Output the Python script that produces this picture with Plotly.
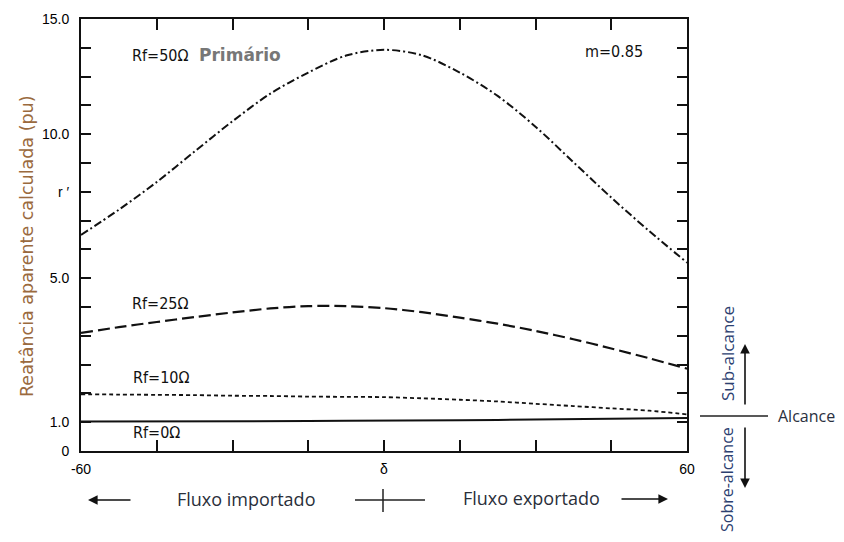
import plotly.graph_objects as go

# ---- data (x: load angle delta in degrees; y: position on the chart's vertical scale) ----
delta = [-60, -52.5, -45, -37.5, -30, -22.5, -15, -7.5, 0, 7.5, 15, 22.5, 30, 37.5, 45, 52.5, 60]
rf50 = [7.50, 8.38, 9.34, 10.40, 11.45, 12.41, 13.14, 13.73, 13.93, 13.74, 13.14, 12.33, 11.26, 10.03, 8.80, 7.64, 6.54]
rf25 = [4.10, 4.30, 4.48, 4.65, 4.81, 4.95, 5.03, 5.03, 4.96, 4.82, 4.63, 4.42, 4.17, 3.88, 3.56, 3.22, 2.86]
rf10 = [1.97, 1.96, 1.95, 1.94, 1.92, 1.91, 1.89, 1.88, 1.87, 1.83, 1.78, 1.72, 1.64, 1.56, 1.48, 1.40, 1.27]
rf0 = [1.02, 1.02, 1.03, 1.03, 1.03, 1.04, 1.04, 1.05, 1.05, 1.06, 1.07, 1.08, 1.09, 1.10, 1.12, 1.13, 1.15]

x_tickvals = [-60, -45, -30, -15, 0, 15, 30, 45, 60]
x_ticktext = ["-60", "", "", "", "δ", "", "", "", "60"]
y_tickvals = list(range(0, 16))
y_ticktext = ["0", "1.0", "", "", "", "", "5.0", "", "", "r ′", "", "10.0", "", "", "", "15.0"]

# ---- figure ----
OFF = 8  # page body margin
W, H = 844 - OFF, 542 - OFF
L, T = 81 - OFF, 19 - OFF
PW, PH = 606, 432
R, B = W - L - PW, H - T - PH


def px(x):
    return (x - OFF - L) / PW


def py(y):
    return (T + PH - (y - OFF)) / PH


fig = go.Figure()
fig.add_trace(go.Scatter(x=delta, y=rf50, mode="lines", line=dict(color="#111", width=2, dash="8px,3px,2px,3px", shape="spline", smoothing=0.9), showlegend=False))
fig.add_trace(go.Scatter(x=delta, y=rf25, mode="lines", line=dict(color="#111", width=2.2, dash="12px,5px", shape="spline", smoothing=0.9), showlegend=False))
fig.add_trace(go.Scatter(x=delta, y=rf10, mode="lines", line=dict(color="#111", width=1.8, dash="4px,3px", shape="spline", smoothing=0.9), showlegend=False))
fig.add_trace(go.Scatter(x=delta, y=rf0, mode="lines", line=dict(color="#111", width=2), showlegend=False))

tickfont = dict(family="Liberation Sans, Arial", size=14, color="#000")
fig.update_xaxes(range=[-60, 60], tickvals=x_tickvals, ticktext=x_ticktext, ticks="inside", ticklen=11,
                 tickwidth=1.5, tickcolor="#111", showline=True, linewidth=2, linecolor="#111", mirror="ticks",
                 showgrid=False, zeroline=False, tickfont=tickfont, ticklabelstandoff=4)
fig.update_yaxes(range=[0, 15], tickvals=y_tickvals, ticktext=y_ticktext, ticks="inside", ticklen=10,
                 tickwidth=1.5, tickcolor="#111", showline=True, linewidth=2, linecolor="#111", mirror="ticks",
                 showgrid=False, zeroline=False, tickfont=tickfont, ticklabelstandoff=7)

lab = dict(family="Liberation Sans Narrow, DejaVu Sans Condensed, Arial", size=16, color="#111")
body = "Open Sans, Noto Sans, sans-serif"
ann = [
    dict(x=px(27), y=py(247), text="Reatância aparente calculada (pu)", textangle=-90,
         font=dict(family="DejaVu Sans, sans-serif", size=17.5, color="#9a6a3e"), xanchor="center"),
    dict(x=px(130), y=py(55), text="Rf=50Ω", font=lab, xanchor="left"),
    dict(x=px(197), y=py(55), text="<b>Primário</b>", font=dict(family="DejaVu Sans, sans-serif", size=17, color="#777777"), xanchor="left"),
    dict(x=px(583), y=py(52), text="m=0.85", font=lab, xanchor="left"),
    dict(x=px(130), y=py(303), text="Rf=25Ω", font=lab, xanchor="left"),
    dict(x=px(131), y=py(377), text="Rf=10Ω", font=lab, xanchor="left"),
    dict(x=px(131), y=py(432), text="Rf=0Ω", font=lab, xanchor="left"),
    dict(x=px(246), y=py(499), text="Fluxo importado", font=dict(family=body, size=18, color="#2a2f3a"), xanchor="center"),
    dict(x=px(531), y=py(498), text="Fluxo exportado", font=dict(family=body, size=18, color="#2a2f3a"), xanchor="center"),
    dict(x=px(776), y=py(416), text="Alcance", font=dict(family=body, size=16, color="#2a3040"), xanchor="left"),
    dict(x=px(727), y=py(354), text="Sub-alcance", textangle=-90, font=dict(family=body, size=17, color="#2c4070"), xanchor="center"),
    dict(x=px(727), y=py(480), text="Sobre-alcance", textangle=-90, font=dict(family=body, size=16, color="#2c4070"), xanchor="center"),
]
for a in ann:
    a.update(xref="paper", yref="paper", showarrow=False, yanchor="middle")

arrows = [
    dict(x=px(88), y=py(500), ax=44, ay=0),
    dict(x=px(668), y=py(499), ax=-48, ay=0),
    dict(x=px(745), y=py(344), ax=0, ay=62),
    dict(x=px(745), y=py(488), ax=0, ay=-62),
]
for a in arrows:
    a.update(xref="paper", yref="paper", text="", showarrow=True, arrowhead=2, arrowsize=1.2,
             arrowwidth=1.6, arrowcolor="#111")
fig.update_layout(annotations=ann + arrows)

shapes = [
    dict(type="line", x0=px(355), x1=px(425), y0=py(500), y1=py(500)),
    dict(type="line", x0=px(383), x1=px(383), y0=py(489), y1=py(512)),
    dict(type="line", x0=px(700), x1=px(768), y0=py(416), y1=py(416)),
]
for s in shapes:
    s.update(xref="paper", yref="paper", line=dict(color="#222", width=1.5))
fig.update_layout(shapes=shapes)

fig.update_layout(width=W, height=H, margin=dict(l=L, r=R, t=T, b=B, autoexpand=False),
                  paper_bgcolor="white", plot_bgcolor="white")
fig.write_html("out.html")
